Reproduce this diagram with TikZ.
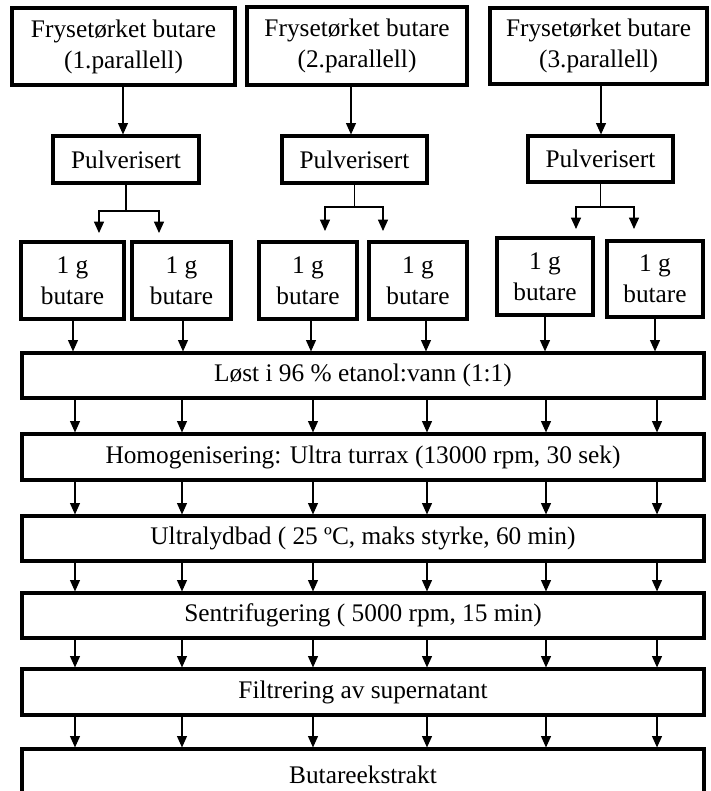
\documentclass[tikz,border=0pt]{standalone}
\usepackage{fontspec}
\setmainfont{Liberation Serif}
\usetikzlibrary{arrows.meta}
\begin{document}
\begin{tikzpicture}[x=0.75pt,y=-0.75pt,
  box/.style={draw,line width=2.4pt,inner sep=0pt,align=center,font=\fontsize{19pt}{23.25pt}\selectfont},
  wh/.style 2 args={minimum width=#1*0.75pt,minimum height=#2*0.75pt},
  arr/.style={line width=0.8pt,-{Triangle[width=7.5pt,length=8.5pt]}},
  ln/.style={line width=0.8pt}]
\useasboundingbox (0,0) rectangle (710,791);
% top boxes
\node[box,wh={223}{77}] (t1) at (123.5,46.5) {Frysetørket butare\\(1.parallell)};
\node[box,wh={220}{78}] (t2) at (357,46) {Frysetørket butare\\(2.parallell)};
\node[box,wh={217}{76}] (t3) at (598.5,46) {Frysetørket butare\\(3.parallell)};
% pulverisert
\node[box,wh={146}{47}] (p1) at (126,159.5) {Pulverisert};
\node[box,wh={145}{47}] (p2) at (354.5,159.5) {Pulverisert};
\node[box,wh={145}{46}] (p3) at (600.5,159) {Pulverisert};
% 1 g boxes
\node[box,wh={103}{77}] (gA) at (72.5,280.5) {1 g\\butare};
\node[box,wh={99}{77}]  (gB) at (181.5,280.5) {1 g\\butare};
\node[box,wh={98}{77}]  (gC) at (308,280.5) {1 g\\butare};
\node[box,wh={98}{77}]  (gD) at (418,280.5) {1 g\\butare};
\node[box,wh={96}{77}]  (gE) at (545,276.5) {1 g\\butare};
\node[box,wh={96}{76}]  (gF) at (655,279) {1 g\\butare};
% process rows
\node[box,wh={682}{45}] (r1) at (363,375.5) {Løst i 96 \% etanol:vann (1:1)};
\node[box,wh={682}{46}] (r2) at (363,457) {Homogenisering: Ultra turrax (13000 rpm, 30 sek)};
\node[box,wh={682}{45}] (r3) at (363,538.5) {Ultralydbad ( 25 ºC, maks styrke, 60 min)};
\node[box,wh={682}{45}] (r4) at (363,615.5) {Sentrifugering ( 5000 rpm, 15 min)};
\node[box,wh={682}{46}] (r5) at (363,692) {Filtrering av supernatant};
\node[box,wh={682}{56},text depth=3pt] (r6) at (363,777) {Butareekstrakt};
% top arrows
\draw[arr] (t1.south -| 123,0) -- (p1.north -| 123,0);
\draw[arr] (t2.south -| 351,0) -- (p2.north -| 351,0);
\draw[arr] (t3.south -| 601,0) -- (p3.north -| 601,0);
% branches
\coordinate (b1l) at (99,211);  \coordinate (b1r) at (159,211);
\coordinate (e1l) at (99,233);  \coordinate (e1r) at (159,233);
\coordinate (b2l) at (325,207); \coordinate (b2r) at (383,207);
\coordinate (e2l) at (325,231); \coordinate (e2r) at (383,231);
\coordinate (b3l) at (576,207); \coordinate (b3r) at (634,207);
\coordinate (e3l) at (576,229); \coordinate (e3r) at (634,229);
\draw[ln] (p1.south) -- (p1.south |- b1l);
\draw[arr] (p1.south |- b1l) -| (e1l);
\draw[arr] (p1.south |- b1l) -| (e1r);
\draw[ln] (p2.south) -- (p2.south |- b2l);
\draw[arr] (p2.south |- b2l) -| (e2l);
\draw[arr] (p2.south |- b2l) -| (e2r);
\draw[ln] (p3.south) -- (p3.south |- b3l);
\draw[arr] (p3.south |- b3l) -| (e3l);
\draw[arr] (p3.south |- b3l) -| (e3r);
% 1 g boxes to first row
\foreach \n/\x in {gA/73,gB/183,gC/311,gD/426,gE/545,gF/655}
  \draw[arr] (\n.south -| \x,0) -- (r1.north -| \x,0);
% between rows
\foreach \a/\b in {r1/r2,r2/r3,r3/r4,r4/r5,r5/r6}
  \foreach \x in {75,182,313,427,546,657}
    \draw[arr] (\a.south -| \x,0) -- (\b.north -| \x,0);
\end{tikzpicture}
\end{document}
